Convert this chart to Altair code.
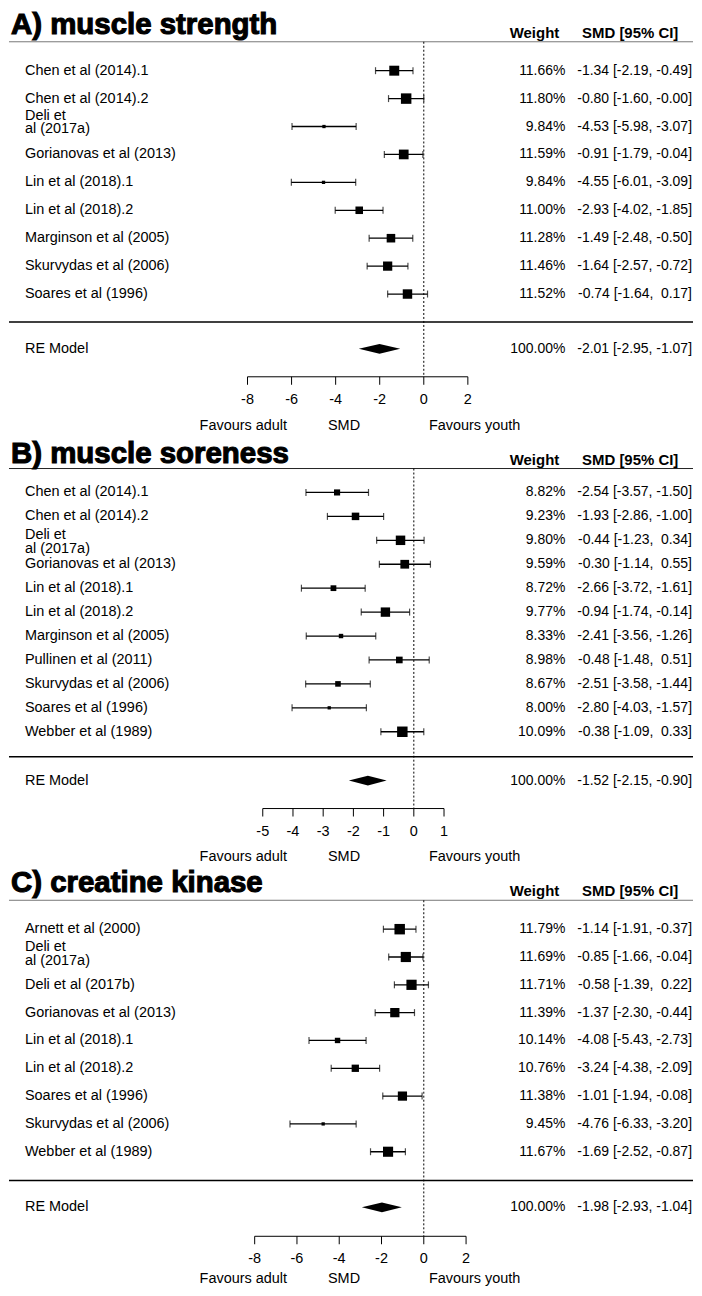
import altair as alt
import pandas as pd

# ---------------- data ----------------
A_studies = ["Chen et al (2014).1", "Chen et al (2014).2", "Deli et\n\u00a0al (2017a)",
             "Gorianovas et al (2013)", "Lin et al (2018).1", "Lin et al (2018).2",
             "Marginson et al (2005)", "Skurvydas et al (2006)", "Soares et al (1996)"]
A_weights = [11.66, 11.80, 9.84, 11.59, 9.84, 11.00, 11.28, 11.46, 11.52]
A_est = [-1.34, -0.80, -4.53, -0.91, -4.55, -2.93, -1.49, -1.64, -0.74]
A_lo = [-2.19, -1.60, -5.98, -1.79, -6.01, -4.02, -2.48, -2.57, -1.64]
A_hi = [-0.49, -0.0, -3.07, -0.04, -3.09, -1.85, -0.50, -0.72, 0.17]
A_re = [-2.01, -2.95, -1.07]
A_ticks = [-8, -6, -4, -2, 0, 2]

B_studies = ["Chen et al (2014).1", "Chen et al (2014).2", "Deli et\n\u00a0al (2017a)",
             "Gorianovas et al (2013)", "Lin et al (2018).1", "Lin et al (2018).2",
             "Marginson et al (2005)", "Pullinen et al (2011)", "Skurvydas et al (2006)",
             "Soares et al (1996)", "Webber et al (1989)"]
B_weights = [8.82, 9.23, 9.80, 9.59, 8.72, 9.77, 8.33, 8.98, 8.67, 8.00, 10.09]
B_est = [-2.54, -1.93, -0.44, -0.30, -2.66, -0.94, -2.41, -0.48, -2.51, -2.80, -0.38]
B_lo = [-3.57, -2.86, -1.23, -1.14, -3.72, -1.74, -3.56, -1.48, -3.58, -4.03, -1.09]
B_hi = [-1.50, -1.00, 0.34, 0.55, -1.61, -0.14, -1.26, 0.51, -1.44, -1.57, 0.33]
B_re = [-1.52, -2.15, -0.90]
B_ticks = [-5, -4, -3, -2, -1, 0, 1]

C_studies = ["Arnett et al (2000)", "Deli et\n\u00a0al (2017a)", "Deli et al (2017b)",
             "Gorianovas et al (2013)", "Lin et al (2018).1", "Lin et al (2018).2",
             "Soares et al (1996)", "Skurvydas et al (2006)", "Webber et al (1989)"]
C_weights = [11.79, 11.69, 11.71, 11.39, 10.14, 10.76, 11.38, 9.45, 11.67]
C_est = [-1.14, -0.85, -0.58, -1.37, -4.08, -3.24, -1.01, -4.76, -1.69]
C_lo = [-1.91, -1.66, -1.39, -2.30, -5.43, -4.38, -1.94, -6.33, -2.52]
C_hi = [-0.37, -0.04, 0.22, -0.44, -2.73, -2.09, -0.08, -3.20, -0.87]
C_re = [-1.98, -2.93, -1.04]
C_ticks = [-8, -6, -4, -2, 0, 2]

titles = ["A) muscle strength", "B) muscle soreness", "C) creatine kinase"]
col_heads = ["Weight", "SMD [95% CI]"]
axis_words = ["Favours adult", "SMD", "Favours youth"]

W = 686
FONT = "Liberation Sans"
FS = 14.5
FS_NUM = 14


def num(v):
    s = f"{v:.2f}"
    if not s.startswith("-"):
        s = "\u00a0" + s
    return s


def ci_text(e, l, h):
    return f"{num(e)} [{num(l)}, {num(h)}]".replace("[\u00a0", "[").lstrip("\u00a0")


def panel(title, studies, weights, est, lo, hi, re, ticks, cfg):
    k = len(studies)
    rp, r0, top, H = cfg["row_px"], cfg["first_row"], cfg["top"], cfg["height"]

    def row(py):
        return k - (py - r0) / rp

    ys = alt.Scale(domain=[row(top + H), row(top)], nice=False, zero=False)
    z = cfg["zero"] - 8
    s = cfg["scale"]
    xs = alt.Scale(domain=[-z / s, (W - z) / s], nice=False, zero=False)

    def X(f):
        return alt.X(f, type="quantitative", scale=xs, axis=None)

    def Y(f):
        return alt.Y(f, type="quantitative", scale=ys, axis=None)

    wmin, wmax = min(weights), max(weights)
    sides = [3.3 + 7.2 * (w - wmin) / (wmax - wmin) for w in weights]
    df = pd.DataFrame({
        "study": studies,
        "row": list(range(k, 0, -1)),
        "est": est, "lo": lo, "hi": hi,
        "size": [sd * sd for sd in sides],
        "wtxt": [f"{w:.2f}%" for w in weights],
        "ci": [ci_text(e, l, h) for e, l, h in zip(est, lo, hi)],
    })
    re_row = row(cfg["re_py"])
    re_df = pd.DataFrame({
        "study": ["RE Model"], "row": [re_row],
        "wtxt": ["100.00%"], "ci": [ci_text(*re)],
    })
    hgt = 5.0 / rp
    dia = pd.DataFrame({
        "x": [re[1], re[0], re[2]],
        "y": [re_row, re_row + hgt, re_row],
        "y2": [re_row, re_row - hgt, re_row],
    })

    base = alt.Chart(df)
    ci_rule = base.mark_rule(color="black", strokeWidth=1.3).encode(
        x=X("lo"), x2="hi", y=Y("row"))
    cap_lo = base.mark_tick(orient="vertical", size=7, thickness=1.2, color="black").encode(
        x=X("lo"), y=Y("row"))
    cap_hi = base.mark_tick(orient="vertical", size=7, thickness=1.2, color="black").encode(
        x=X("hi"), y=Y("row"))
    squares = base.mark_square(color="black", opacity=1, filled=True).encode(
        x=X("est"), y=Y("row"), size=alt.Size("size:Q", scale=None, legend=None))

    txt_df = pd.concat([df[["study", "row", "wtxt", "ci"]], re_df], ignore_index=True)
    txt_df["multi"] = txt_df["study"].str.contains("\n")
    tb = alt.Chart(txt_df)
    labels = tb.mark_text(align="left", baseline="middle", font=FONT, fontSize=FS,
                          color="black").encode(
        x=alt.value(16), y=Y("row"), text="study:N").transform_filter("!datum.multi")
    labels2 = tb.mark_text(align="left", baseline="middle", font=FONT, fontSize=FS,
                           lineBreak="\n", lineHeight=14, dy=cfg["ml_dy"],
                           color="black").encode(
        x=alt.value(16), y=Y("row"), text="study:N").transform_filter("datum.multi")
    wt = tb.mark_text(align="right", baseline="middle", font=FONT, fontSize=FS_NUM,
                      color="black").encode(x=alt.value(558), y=Y("row"), text="wtxt:N")
    cit = tb.mark_text(align="right", baseline="middle", font=FONT, fontSize=FS_NUM,
                       color="black").encode(x=alt.value(685), y=Y("row"), text="ci:N")

    diamond = alt.Chart(dia).mark_area(color="black", orient="vertical").encode(
        x=X("x"), y=Y("y"), y2="y2")

    zero_df = pd.DataFrame({"x": [0], "y": [row(cfg["hline_py"])], "y2": [row(cfg["axis_py"])]})
    zero_line = alt.Chart(zero_df).mark_rule(color="black", strokeDash=[2, 2], strokeWidth=1).encode(
        x=X("x"), y=Y("y"), y2="y2")
    lines_df = pd.DataFrame({"y": [row(cfg["hline_py"]), row(cfg["sep_py"])],
                             "c": [cfg["hcol"], "black"], "w": [1.0, 1.5]})
    hlines = alt.Chart(lines_df).mark_rule().encode(
        x=alt.value(0), x2=alt.value(W), y=Y("y"),
        color=alt.Color("c:N", scale=None, legend=None),
        strokeWidth=alt.StrokeWidth("w:Q", scale=None, legend=None))

    ay = row(cfg["axis_py"])
    axis_df = pd.DataFrame({"x": [ticks[0]], "x2": [ticks[-1]], "y": [ay]})
    axis_line = alt.Chart(axis_df).mark_rule(color="black", strokeWidth=1).encode(
        x=X("x"), x2="x2", y=Y("y"))
    tick_df = pd.DataFrame({"t": ticks, "y": [ay] * len(ticks),
                            "y2": [row(cfg["axis_py"] + 8)] * len(ticks),
                            "ly": [row(cfg["label_py"])] * len(ticks),
                            "lab": [str(t) for t in ticks]})
    tick_marks = alt.Chart(tick_df).mark_rule(color="black", strokeWidth=1).encode(
        x=X("t"), y=Y("y"), y2="y2")
    tick_labels = alt.Chart(tick_df).mark_text(baseline="middle", font=FONT, fontSize=FS,
                                               color="black").encode(
        x=X("t"), y=Y("ly"), text="lab:N")

    fav_df = pd.DataFrame({"lab": axis_words,
                           "px": [235, 336, 467], "y": [row(cfg["fav_py"])] * 3})
    fav = alt.Chart(fav_df).mark_text(baseline="middle", font=FONT, fontSize=FS,
                                      color="black").encode(
        x=alt.X("px:Q", scale=None), y=Y("y"), text="lab:N")

    head_df = pd.DataFrame({"lab": col_heads, "px": [527, 623],
                            "y": [row(cfg["header_py"])] * 2})
    head = alt.Chart(head_df).mark_text(baseline="middle", font=FONT, fontSize=15,
                                        fontWeight="bold", color="black").encode(
        x=alt.X("px:Q", scale=None), y=Y("y"), text="lab:N")

    title_df = pd.DataFrame({"lab": [title], "y": [row(cfg["title_py"])]})
    ttl = alt.Chart(title_df).mark_text(align="left", baseline="alphabetic", font=FONT,
                                        fontSize=29.5, fontWeight="bold", color="black",
                                        stroke="black", strokeWidth=1.1).encode(
        x=alt.value(2), y=Y("y"), text="lab:N")

    return alt.layer(
        hlines, zero_line, ci_rule, cap_lo, cap_hi, squares, diamond,
        axis_line, tick_marks, tick_labels, fav, labels, labels2, wt, cit, head, ttl
    ).properties(width=W, height=H)


cfgA = dict(row_px=28, first_row=68, top=8, height=430, zero=424, scale=22.1,
            header_py=30, hline_py=39, sep_py=320, re_py=347, axis_py=375,
            label_py=398, fav_py=424, title_py=31, hcol="#777777", ml_dy=-11)
cfgB = dict(row_px=24, first_row=491, top=438, height=422, zero=414, scale=30.3,
            header_py=458, hline_py=467, sep_py=756, re_py=780, axis_py=808,
            label_py=832, fav_py=857, title_py=461, hcol="#222222", ml_dy=-5)
cfgC = dict(row_px=27.9, first_row=929, top=860, height=428, zero=424, scale=21.2,
            header_py=891, hline_py=900, sep_py=1181, re_py=1208, axis_py=1237,
            label_py=1260, fav_py=1280, title_py=892, hcol="#777777", ml_dy=-10)

pA = panel(titles[0], A_studies, A_weights, A_est, A_lo, A_hi, A_re, A_ticks, cfgA)
pB = panel(titles[1], B_studies, B_weights, B_est, B_lo, B_hi, B_re, B_ticks, cfgB)
pC = panel(titles[2], C_studies, C_weights, C_est, C_lo, C_hi, C_re, C_ticks, cfgC)

chart = alt.vconcat(pA, pB, pC, spacing=0, bounds="flush").properties(padding=0).configure_view(
    strokeWidth=0).configure_concat(spacing=0)

chart.save("out.html", embed_options={"renderer": "svg", "actions": False})
